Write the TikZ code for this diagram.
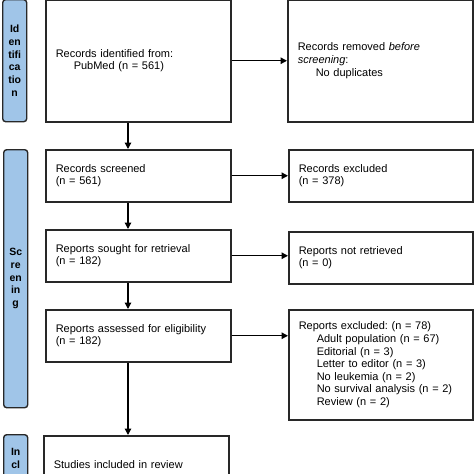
\documentclass[tikz,border=0pt]{standalone}
\usepackage{fontspec}
\setmainfont{Liberation Sans}
\usetikzlibrary{arrows.meta,calc}
\definecolor{barblue}{RGB}{160,197,232}
\definecolor{edgegray}{RGB}{40,40,40}
\begin{document}
\frenchspacing
\begin{tikzpicture}[x=1pt,y=-1pt,
  box/.style={draw=edgegray,line width=1.5pt,fill=white,inner xsep=10pt,inner ysep=0pt,
    align=left,anchor=north west,font=\fontsize{11}{12.6}\selectfont\frenchspacing},
  bar/.style={draw=edgegray,line width=1.4pt,fill=barblue,rounded corners=3pt,inner sep=0pt,
    anchor=north west,minimum width=24pt,align=center,text width=24pt,
    font=\fontsize{10.5}{12.7}\selectfont\bfseries},
  arr/.style={line width=1.3pt,draw=black,-{Triangle[length=6.5pt,width=6.5pt]}}]
\useasboundingbox (0,0) rectangle (474,474);
\fill[white] (0,0) rectangle (474,474);
% phase bars
\node[bar,minimum height=122pt] (pid) at (2,-1) {Id\\en\\tifi\\ca\\tio\\n};
\node[bar,minimum height=258pt] (psc) at (3,149) {Sc\\re\\en\\in\\g};
\node[bar,minimum height=48pt] (pin) at (3,434) {In\\cl};
% left column
\node[box,minimum width=185pt,minimum height=122pt,text width=165pt] (l1) at (45,-1)
  {Records identified from:\\\hspace*{18pt}PubMed (n = 561)};
\node[box,minimum width=185pt,minimum height=52pt,text width=165pt] (l2) at (45,149)
  {Records screened\\(n = 561)};
\node[box,minimum width=185pt,minimum height=52pt,text width=165pt] (l3) at (45,229)
  {Reports sought for retrieval\\(n = 182)};
\node[box,minimum width=185pt,minimum height=52pt,text width=165pt] (l4) at (45,309)
  {Reports assessed for eligibility\\(n = 182)};
\node[box,minimum width=185pt,minimum height=58pt,text width=165pt] (l5) at (43,435)
  {Studies included in review};
% right column
\node[box,minimum width=185pt,minimum height=122pt,text width=165pt] (r1) at (287,-1)
  {Records removed \textit{before}\\\textit{screening}:\\\hspace*{18pt}No duplicates};
\node[box,minimum width=184pt,minimum height=52pt,text width=164pt] (r2) at (288,149)
  {Records excluded\\(n = 378)};
\node[box,minimum width=184pt,minimum height=52pt,text width=164pt] (r3) at (288,231)
  {Reports not retrieved\\(n = 0)};
\node[box,minimum width=184pt,minimum height=110pt,text width=164pt] (r4) at (288,309)
  {Reports excluded: (n = 78)\\
   \hspace*{18pt}Adult population (n = 67)\\
   \hspace*{18pt}Editorial (n = 3)\\
   \hspace*{18pt}Letter to editor (n = 3)\\
   \hspace*{18pt}No leukemia (n = 2)\\
   \hspace*{18pt}No survival analysis (n = 2)\\
   \hspace*{18pt}Review (n = 2)};
% arrows
\coordinate (ax) at (128,0);
\draw[arr] (l1.south -| ax) -- (l2.north -| ax);
\draw[arr] (l2.south -| ax) -- (l3.north -| ax);
\draw[arr] (l3.south -| ax) -- (l4.north -| ax);
\draw[arr] (l4.south -| ax) -- (l5.north -| ax);
\draw[arr] (l1.east) -- (l1.east -| r1.west);
\draw[arr] (l2.east) -- (l2.east -| r2.west);
\draw[arr] (l3.east) -- (l3.east -| r3.west);
\draw[arr] (l4.east) -- (l4.east -| r4.west);
\end{tikzpicture}
\end{document}
